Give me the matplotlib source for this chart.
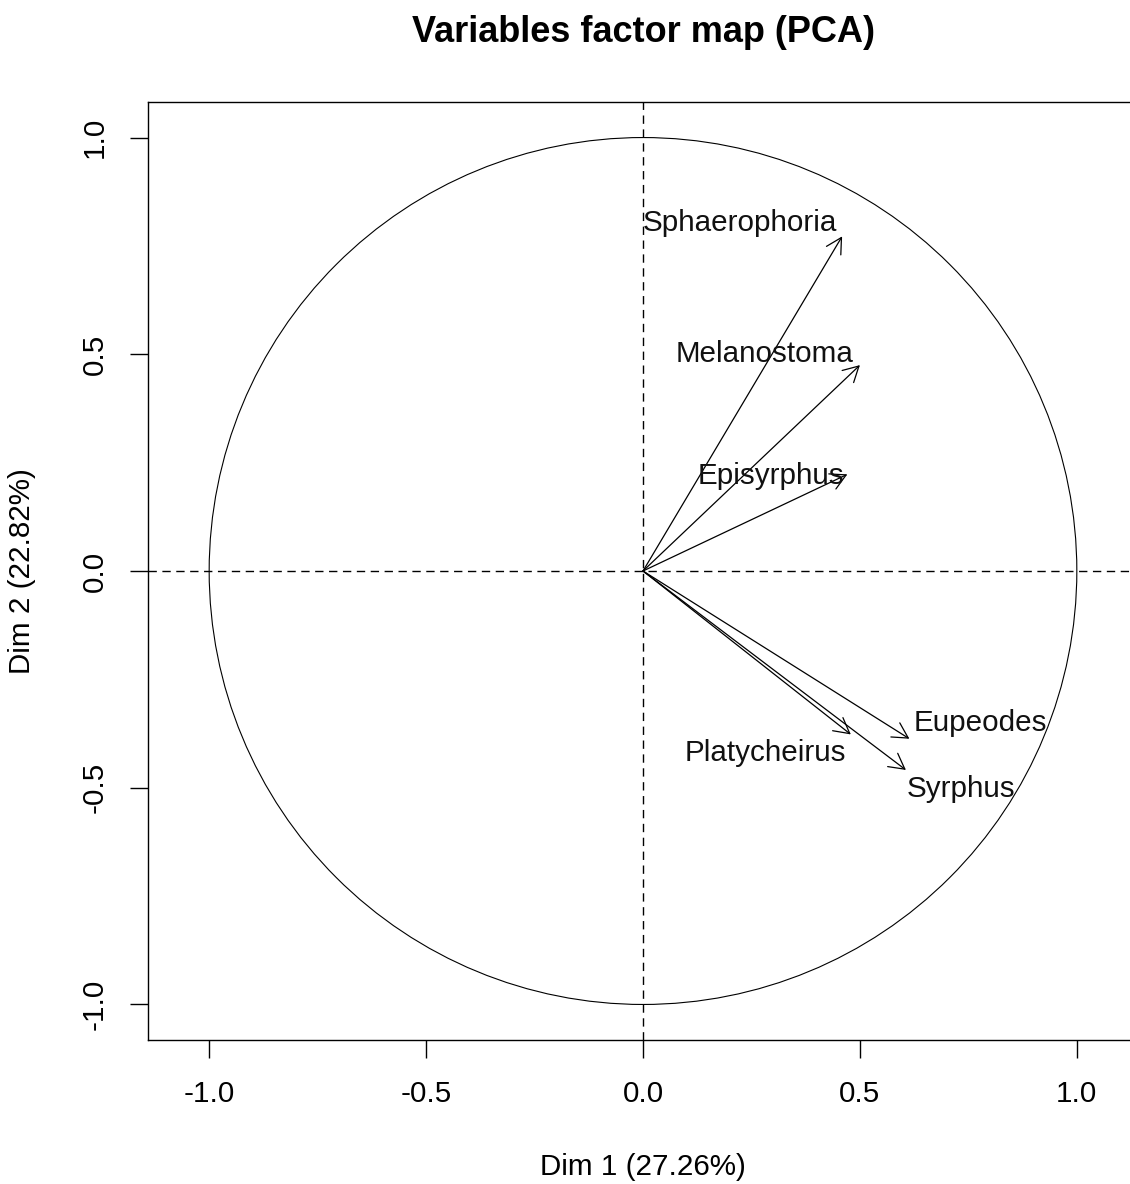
import matplotlib.pyplot as plt
from matplotlib.patches import Circle

plt.rcParams['font.family'] = ['Liberation Sans', 'DejaVu Sans']

# variable coordinates on Dim 1 / Dim 2 (arrow tips)
variables = ['Sphaerophoria', 'Melanostoma', 'Episyrphus', 'Platycheirus', 'Eupeodes', 'Syrphus']
dim1 = [0.459, 0.500, 0.471, 0.479, 0.614, 0.606]
dim2 = [0.772, 0.475, 0.223, -0.377, -0.387, -0.459]

# where the labels sit (repelled)
label_x = [0.224, 0.280, 0.294, 0.283, 0.777, 0.734]
label_y = [0.785, 0.482, 0.200, -0.438, -0.369, -0.521]

ticks = [-1.0, -0.5, 0.0, 0.5, 1.0]
tick_labels = ['-1.0', '-0.5', '0.0', '0.5', '1.0']

W, H = 1130, 1184
fig = plt.figure(figsize=(W / 100, H / 100), dpi=100)
ax = fig.add_axes([148 / W, (H - 1040) / H, (1138 - 148) / W, (1040 - 102) / H])
ax.set_xlim(-1.141, 1.141)
ax.set_ylim(-1.082, 1.082)

for s in ax.spines.values():
    s.set_linewidth(1.0)
    s.set_color('black')

ax.add_patch(Circle((0, 0), 1.0, fill=False, color='black', lw=0.8))
ax.axhline(0, color='black', lw=1.0, dashes=(6, 4))
ax.axvline(0, color='black', lw=1.0, dashes=(6, 4))

fs = 21.3
for name, x, y, lx, ly in zip(variables, dim1, dim2, label_x, label_y):
    ax.annotate('', xy=(x, y), xytext=(0, 0),
                arrowprops=dict(arrowstyle='->,head_length=0.55,head_width=0.3',
                                mutation_scale=20, lw=0.9, color='black',
                                shrinkA=0, shrinkB=0))
    ax.text(lx, ly, name, ha='center', va='baseline', fontsize=fs, color='#111111')

ax.set_xticks(ticks)
ax.set_xticklabels(tick_labels)
ax.set_yticks(ticks)
ax.set_yticklabels(tick_labels, rotation=90, va='center')
ax.tick_params(axis='both', length=13, width=1.0, labelsize=fs, color='black')
ax.tick_params(axis='x', pad=16)
ax.tick_params(axis='y', pad=15)

fig.text(643 / W, 1 - 1167 / H, 'Dim 1 (27.26%)', ha='center', va='center', fontsize=fs)
fig.text(22 / W, 1 - 571 / H, 'Dim 2 (22.82%)', ha='center', va='center', fontsize=fs, rotation=90)
fig.text(643 / W, 1 - 33 / H, 'Variables factor map (PCA)', ha='center', va='center',
         fontsize=26, fontweight='bold')

fig.savefig('out.png', dpi=100)
